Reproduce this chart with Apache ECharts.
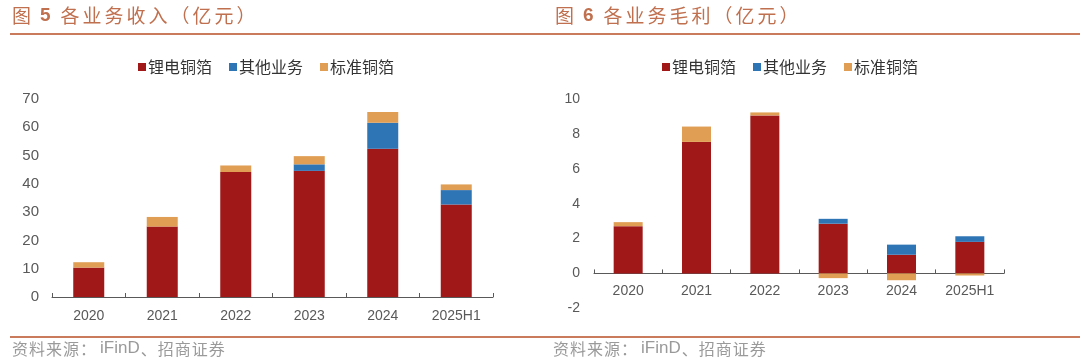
<!DOCTYPE html>
<html>
<head>
<meta charset="utf-8">
<script src="https://cdn.jsdelivr.net/npm/echarts@6/dist/echarts.min.js"></script>
<style>
html,body{margin:0;padding:0;background:#fff;}
#c{width:1080px;height:360px;}
</style>
</head>
<body>
<div id="c"></div>
<script>
const categories = ['2020','2021','2022','2023','2024','2025H1'];
const seriesNames = ['锂电铜箔','其他业务','标准铜箔'];

// 图5 各业务收入（亿元）
const revLithium = [10.4, 24.9, 44.2, 44.6, 52.4, 32.7];
const revOther   = [0, 0, 0, 2.3, 9.2, 5.1];
const revStd     = [1.9, 3.4, 2.3, 2.9, 3.8, 2.0];

// 图6 各业务毛利（亿元）
const gpLithium = [2.71, 7.54, 9.06, 2.85, 1.07, 1.81];
const gpOther   = [0, 0, 0, 0.28, 0.58, 0.32];
const gpStd     = [0.23, 0.88, 0.17, -0.27, -0.39, -0.12];

const leftTitle = '各业务收入（亿元）';
const rightTitle = '各业务毛利（亿元）';
const source = '资料来源：iFinD、招商证券';

const COLORS = ['#A01818', '#2E75B6', '#E09E54'];
const TITLE_COLOR = '#C0704E';
const RULE_COLOR = '#C97B5C';
const AXIS_COLOR = '#595959';
const LABEL_COLOR = '#595959';
const FONT = 'Liberation Sans, Arial, "Noto Sans CJK SC", sans-serif';
const CJK = '"Noto Sans CJK SC", sans-serif';

const chart = echarts.init(document.getElementById('c'), null, {renderer: 'canvas'});

function xAxis(gridIndex, margin, offset) {
  return {
    type: 'category', gridIndex, data: categories, position: 'bottom', offset: offset,
    axisLine: {onZero: false, lineStyle: {color: AXIS_COLOR, width: 1}},
    axisTick: {show: true, inside: true, length: 4, lineStyle: {color: AXIS_COLOR}},
    axisLabel: {color: LABEL_COLOR, fontSize: 14, fontFamily: FONT, margin: margin, interval: 0},
    splitLine: {show: false}
  };
}
function yAxis(gridIndex, min, max, interval, margin, fs) {
  return {
    type: 'value', gridIndex, min, max, interval,
    axisLine: {show: false}, axisTick: {show: false},
    axisLabel: {color: LABEL_COLOR, fontSize: fs, fontFamily: FONT, margin: margin},
    splitLine: {show: false}
  };
}
function bars(idx, stack, data, name, color, width) {
  return {
    type: 'bar', name, xAxisIndex: idx, yAxisIndex: idx, stack, data,
    barWidth: width, itemStyle: {color}, z: 3
  };
}
function legend(left) {
  return {
    data: seriesNames, top: 54, left: left,
    icon: 'rect', itemWidth: 8, itemHeight: 8, itemGap: 17,
    textStyle: {color: '#333', fontSize: 16, fontFamily: CJK, padding: [0,0,0,-3]}
  };
}
// split text into rich tokens: CJK characters individually (for letter spacing), Latin runs together
function spaced(str, cjkStyle, latinStyle) {
  const parts = str.match(/[A-Za-z0-9]+|[^A-Za-z0-9]/g);
  return parts.map(p => '{' + (/^[A-Za-z0-9]+$/.test(p) ? latinStyle : cjkStyle) + '|' + p + '}').join('');
}

const titleRich = {
  a: {fontSize: 19, fontFamily: CJK, fill: TITLE_COLOR, padding: [0, 3, 0, 0]},
  b: {fontSize: 19, fontFamily: FONT, fontWeight: 'bold', fill: TITLE_COLOR, padding: [0, 10, 0, 6]}
};
const srcRich = {
  c: {fontSize: 16, fontFamily: CJK, fill: '#9A9A9A', padding: [0, 1, 0, 0]},
  d: {fontSize: 17, fontFamily: FONT, fill: '#9A9A9A', padding: [0, 1, 0, 3]}
};

const option = {
  animation: false,
  backgroundColor: '#fff',
  color: COLORS,
  legend: [legend(133), legend(657)],
  grid: [
    {left: 52, width: 441, top: 99, height: 198},
    {left: 594, width: 410, top: 99, height: 209.3}
  ],
  xAxis: [xAxis(0, 12, 0), xAxis(1, 11, -209.3 * 2 / 12)],
  yAxis: [yAxis(0, 0, 70, 10, 13, 15), yAxis(1, -2, 10, 2, 14, 14)],
  series: [
    bars(0, 'a', revLithium, seriesNames[0], COLORS[0], 31),
    bars(0, 'a', revOther, seriesNames[1], COLORS[1], 31),
    bars(0, 'a', revStd, seriesNames[2], COLORS[2], 31),
    bars(1, 'b', gpLithium, seriesNames[0], COLORS[0], 29),
    bars(1, 'b', gpOther, seriesNames[1], COLORS[1], 29),
    bars(1, 'b', gpStd, seriesNames[2], COLORS[2], 29)
  ],
  graphic: [
    {type: 'text', left: 12, top: 6, style: {
      text: '{a|图}{b|5}' + spaced(leftTitle, 'a', 'a'), rich: titleRich
    }},
    {type: 'text', left: 555, top: 6, style: {
      text: '{a|图}{b|6}' + spaced(rightTitle, 'a', 'a'), rich: titleRich
    }},
    {type: 'line', shape: {x1: 10, y1: 34, x2: 1080, y2: 34}, style: {stroke: RULE_COLOR, lineWidth: 2}},
    {type: 'line', shape: {x1: 10, y1: 337, x2: 1080, y2: 337}, style: {stroke: RULE_COLOR, lineWidth: 2}},
    {type: 'text', left: 12, top: 340, style: {text: spaced(source, 'c', 'd'), rich: srcRich}},
    {type: 'text', left: 553, top: 340, style: {text: spaced(source, 'c', 'd'), rich: srcRich}}
  ]
};
chart.setOption(option);
</script>
</body>
</html>
